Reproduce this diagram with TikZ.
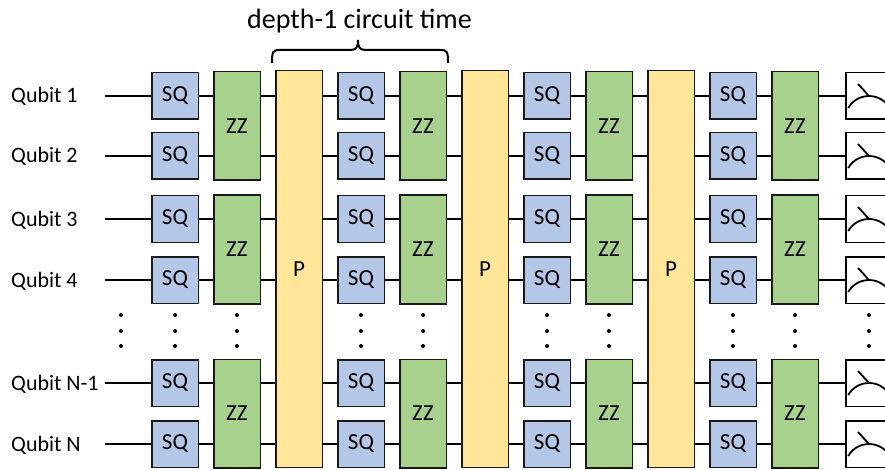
\documentclass[tikz,border=0pt]{standalone}
\usepackage{fontspec}
\setmainfont{Carlito}
\usetikzlibrary{backgrounds}
\definecolor{sqblue}{HTML}{B4C7E7}
\definecolor{zzgreen}{HTML}{A9D18E}
\definecolor{pyellow}{HTML}{FFE699}

\begin{document}
\begin{tikzpicture}[
    x=1pt, y=-1pt,
    gate/.style={draw=black!90, line width=1.5pt, inner sep=0pt, minimum width=46.5pt, font=\fontsize{23}{27}\selectfont},
    sqgate/.style={gate, fill=sqblue, minimum height=46.5pt},
    zzgate/.style={gate, fill=zzgreen, minimum height=108.5pt},
    pgate/.style={gate, fill=pyellow, minimum height=396.5pt},
    meter/.style={draw=black, line width=1.5pt, fill=white, minimum width=46.5pt, minimum height=46.5pt},
    needle/.style={line width=1.8pt, black},
    wire/.style={line width=2.8pt, black},
    qlabel/.style={anchor=base west, inner sep=0pt, font=\fontsize{22}{26}\selectfont},
    brace/.style={line width=2pt, black}
  ]
    \useasboundingbox (0,0) rectangle (885,470);
    \clip (0,0) rectangle (885,470);

    % Title and brace over one depth-1 layer
    \node[anchor=base, inner sep=0pt, font=\fontsize{28}{33}\selectfont] (title) at (359.5, 28.3) {depth-1 circuit time};
    \draw[brace] (272,63) .. controls (272,51) and (273,50) .. (280,50) -- (350,50)
      .. controls (356,50) and (358,48) .. (358,40)
      .. controls (358,48) and (360,50) .. (366,50) -- (440,50)
      .. controls (447,50) and (448,51) .. (448,63);

    % Qubit labels, wire starts and measurements
    \foreach \i/\y/\name in {1/96/Qubit 1, 2/156/Qubit 2, 3/219/Qubit 3, 4/280/Qubit 4, 5/383/Qubit N-1, 6/444/Qubit N} {
      \node[qlabel] (q\i) at (11, \y+7) {\name};
      \coordinate (w\i) at (105, \y);
      \node[meter] (m\i) at (869, \y) {};
      \draw[needle] (m\i.center) arc[start angle=90, end angle=150, radius=24pt];
      \draw[needle] (m\i.center) arc[start angle=90, end angle=30, radius=24pt];
      \draw[needle] (m\i.center) -- ++(-11,-12);
    }

    % Single-qubit and ZZ layers
    \foreach \k/\xs/\xz in {1/175/237, 2/361/423, 3/547/609, 4/733/795} {
      \foreach \i/\y in {1/96, 2/156, 3/219, 4/280, 5/383, 6/444}
        \node[sqgate] (sq\k-\i) at (\xs, \y) {SQ};
      \foreach \j/\y in {1/126, 2/249.5, 3/413.5}
        \node[zzgate] (zz\k-\j) at (\xz, \y) {ZZ};
    }

    % Permutation layers
    \foreach \k/\xp in {1/299, 2/485, 3/671}
      \node[pgate] (p\k) at (\xp, 269) {P};

    % Vertical ellipses
    \foreach \x in {121, 175, 237, 361, 423, 547, 609, 733, 795, 869}
      \foreach \y in {315, 331, 346}
        \fill (\x, \y) circle[radius=2pt];

    % Wires behind the gates
    \begin{scope}[on background layer]
      \foreach \i in {1,...,6}
        \draw[wire] (w\i) -- (m\i.west);
    \end{scope}

  \end{tikzpicture}
\end{document}
